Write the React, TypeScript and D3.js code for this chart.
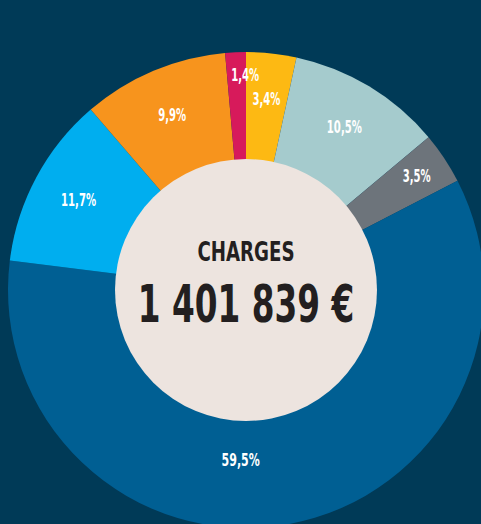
import React, { useRef, useEffect } from "react";
import * as d3 from "d3";

const categories = ["A", "B", "C", "D", "E", "F", "G"];
const shares = [3.4, 10.5, 3.5, 59.5, 11.7, 9.9, 1.4];
const colors = ["#fdb913", "#a5cbcd", "#6d747b", "#005f93", "#00aeef", "#f7941d", "#d71a5b"];
const centerTitle = "CHARGES";
const centerValue = "1 401 839 €";

const W = 481;
const H = 524;

function App() {
  const svgRef = useRef<SVGSVGElement | null>(null);

  useEffect(() => {
    const svg = d3.select(svgRef.current);
    svg.selectAll("*").remove();

    const cx = 246;
    const cy = 290;
    const outer = 238;
    const inner = 131;
    // no condensed DIN available, so squeeze DejaVu Sans Condensed horizontally
    const font = "'DejaVu Sans Condensed', 'DejaVu Sans', sans-serif";

    svg.append("rect").attr("width", W).attr("height", H).attr("fill", "#003a57");

    const data = categories.map((c, i) => ({ key: c, value: shares[i], color: colors[i] }));
    const pie = d3.pie<any>().sort(null).value((d) => d.value);
    const arcs = pie(data);

    const arc = d3.arc<any>().innerRadius(0).outerRadius(outer);
    const g = svg.append("g").attr("transform", `translate(${cx},${cy})`);

    g.selectAll("path.slice")
      .data(arcs)
      .join("path")
      .attr("class", "slice")
      .attr("d", arc)
      .attr("fill", (d) => d.data.color);

    g.append("circle").attr("r", inner).attr("fill", "#ede4df");

    // label placement: small slices pushed outward, big one nudged left
    const labelPos = (d: any) => {
      let r = 190;
      let a = (d.startAngle + d.endAngle) / 2;
      if (d.data.value < 2) {
        r = 215;
        a += 0.04;
      } else if (d.data.value < 4 && a > 0.5) r = 205;
      else if (d.data.value < 4) r = 192;
      if (d.data.value > 50) {
        r = 170;
        a = Math.PI * 1.01;
      }
      return [Math.sin(a) * r, -Math.cos(a) * r];
    };

    g.selectAll("text.lbl")
      .data(arcs)
      .join("text")
      .attr("class", "lbl")
      .attr("transform", (d) => {
        const [x, y] = labelPos(d);
        return `translate(${x},${y}) scale(${d.data.value > 50 ? 0.68 : 0.66},1)`;
      })
      .attr("text-anchor", "middle")
      .attr("dominant-baseline", "central")
      .attr("fill", "#ffffff")
      .attr("font-family", font)
      .attr("font-weight", "bold")
      .attr("font-size", (d) => (d.data.value > 50 ? 18 : 17))
      .text((d) => d.data.value.toFixed(1).replace(".", ",") + "%");

    g.append("text")
      .attr("transform", "translate(0,-38) scale(0.75,1)")
      .attr("text-anchor", "middle")
      .attr("dominant-baseline", "central")
      .attr("fill", "#231f20")
      .attr("font-family", font)
      .attr("font-weight", "bold")
      .attr("font-size", 27)
      .text(centerTitle);

    g.append("text")
      .attr("transform", "translate(0,14) scale(0.7,1)")
      .attr("text-anchor", "middle")
      .attr("dominant-baseline", "central")
      .attr("fill", "#231f20")
      .attr("font-family", font)
      .attr("font-weight", "bold")
      .attr("font-size", 52)
      .text(centerValue);
  }, []);

  return (
    <svg
      ref={svgRef}
      width={W}
      height={H}
      style={{ position: "absolute", top: 0, left: 0, display: "block" }}
    />
  );
}

export default App;
